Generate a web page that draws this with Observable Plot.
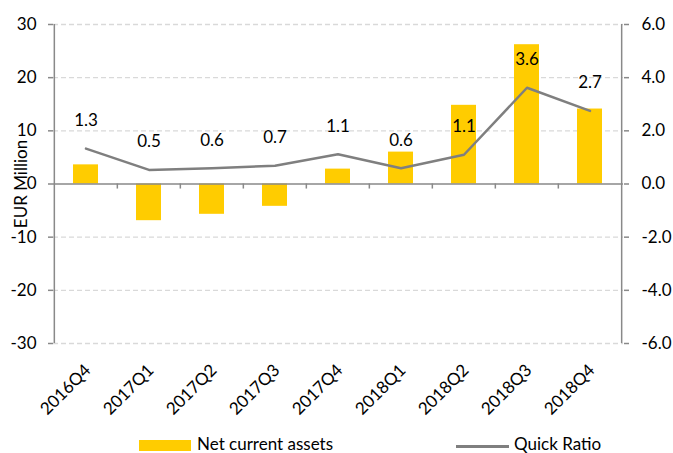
<!DOCTYPE html>
<html>
<head>
<meta charset="utf-8">
<script src="https://cdn.jsdelivr.net/npm/d3@7"></script>
<script src="https://cdn.jsdelivr.net/npm/@observablehq/plot@0.6"></script>
<style>
  html, body { margin: 0; padding: 0; background: #fff; }
  #wrap { position: relative; width: 673px; height: 453px; font-family: Lato, "Open Sans", sans-serif; }
  #legend { position: relative; height: 23px; font-size: 17px; color: #000; }
  .sw { position: absolute; }
  .lt { position: absolute; line-height: 16px; white-space: nowrap; }
</style>
</head>
<body>
<div id="wrap">
  <div id="chart"></div>
  <div id="legend"></div>
</div>
<script>
const quarters = ["2016Q4", "2017Q1", "2017Q2", "2017Q3", "2017Q4", "2018Q1", "2018Q2", "2018Q3", "2018Q4"];
const netCurrentAssets = [3.6, -6.9, -5.7, -4.2, 2.8, 6.0, 14.8, 26.2, 14.1];
const quickRatio = [1.33, 0.53, 0.59, 0.69, 1.12, 0.59, 1.1, 3.62, 2.75];
const ratioLabels = ["1.3", "0.5", "0.6", "0.7", "1.1", "0.6", "1.1", "3.6", "2.7"];
const leftTicks = [-30, -20, -10, 0, 10, 20, 30];
const rightTicks = [-6, -4, -2, 0, 2, 4, 6];
const seriesNames = ["Net current assets", "Quick Ratio"];

const W = 673, H = 430, ml = 53, mr = 50, mt = 24, mb = 87;
const n = quarters.length;
const step = (W - ml - mr) / n;
const ratioScale = 30 / 6; // right axis -6..6 mapped onto left -30..30
const FS = 17;

const data = quarters.map((q, i) => ({q, nca: netCurrentAssets[i], qr: quickRatio[i], lab: ratioLabels[i]}));

const axisGrey = "#898989";

const chart = Plot.plot({
  width: W, height: H,
  marginLeft: ml, marginRight: mr, marginTop: mt, marginBottom: mb,
  style: {fontFamily: "Lato, 'Open Sans', sans-serif", fontSize: FS + "px", color: "#000", background: "#fff"},
  x: {domain: quarters, paddingInner: 0.6, paddingOuter: 0.3, axis: null},
  y: {domain: [-30, 30], axis: null},
  marks: [
    Plot.gridY(leftTicks.filter(d => d !== 0), {stroke: "#d9d9d9", strokeOpacity: 1, strokeDasharray: "5,3", strokeWidth: 1.3}),
    Plot.barY(data, {x: "q", y: "nca", fill: "#FFCC00"}),
    Plot.ruleY([0], {stroke: axisGrey, strokeWidth: 1.5}),
    Plot.ruleX(quarters.slice(1), {x: d => d, y1: 0, y2: -0.95, dx: -step / 2, stroke: axisGrey, strokeWidth: 1.5}),
    Plot.ruleX([quarters[0]], {x: d => d, y1: -30, y2: 30, dx: -step / 2, stroke: axisGrey, strokeWidth: 1.5}),
    Plot.ruleX([quarters[n - 1]], {x: d => d, y1: -30, y2: 30, dx: step / 2, stroke: axisGrey, strokeWidth: 1.5}),
    Plot.axisY(leftTicks, {anchor: "left", tickSize: 5, tickPadding: 12, stroke: axisGrey, strokeWidth: 1.5, fill: "#000", fontSize: FS, tickFormat: d => String(d), label: null}),
    Plot.axisY(rightTicks.map(r => r * ratioScale), {anchor: "right", tickSize: 5, tickPadding: 13, stroke: axisGrey, strokeWidth: 1.5, fill: "#000", fontSize: FS, tickFormat: d => (d / ratioScale).toFixed(1), label: null}),
    Plot.axisX({anchor: "bottom", tickRotate: -45, tickSize: 0, tickPadding: 24, dx: 2, fontSize: FS, fill: "#000", label: null}),
    Plot.line(data, {x: "q", y: d => d.qr * ratioScale, stroke: "#7f7f7f", strokeWidth: 2.5}),
    Plot.text(data, {x: "q", y: d => d.qr * ratioScale, text: "lab", dy: -28, fill: "#000", fontSize: FS}),
    Plot.text(["EUR Million"], {frameAnchor: "left", dx: -32, rotate: -90, textAnchor: "middle", text: d => d, fill: "#000", fontSize: FS})
  ]
});
document.getElementById("chart").appendChild(chart);

// legend
const legend = document.getElementById("legend");
legend.innerHTML = `
  <div class="sw" style="left:139px; top:10px; width:52px; height:11px; background:#FFCC00"></div>
  <div class="lt" style="left:197px; top:6px">${seriesNames[0]}</div>
  <div class="sw" style="left:456px; top:15px; width:53px; height:2.5px; background:#7f7f7f"></div>
  <div class="lt" style="left:514px; top:6px">${seriesNames[1]}</div>
`;
</script>
</body>
</html>
